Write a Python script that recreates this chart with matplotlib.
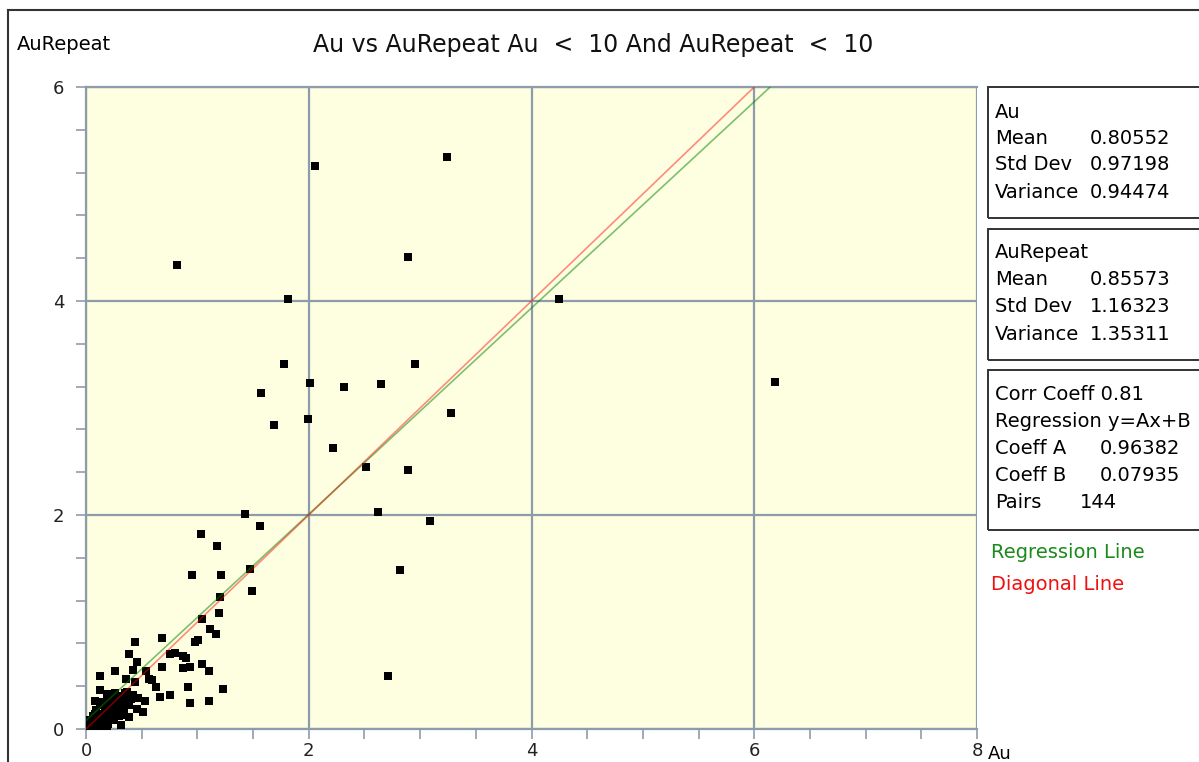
import matplotlib
matplotlib.use("Agg")
import matplotlib.pyplot as plt
from matplotlib.lines import Line2D
from matplotlib.patches import Rectangle
from matplotlib.ticker import MultipleLocator

# Au vs AuRepeat duplicate assay pairs (144 pairs)
au = [
    0.82, 2.06, 3.24, 2.89, 1.81, 4.25, 1.78, 1.57, 1.69, 2.01,
    1.99, 2.32, 2.65, 2.95, 3.28, 2.22, 2.51, 2.89, 6.19, 2.62,
    3.09, 2.82, 2.71, 1.43, 1.56, 1.03, 1.18, 0.95, 1.21, 1.47,
    1.49, 1.20, 1.19, 1.04, 1.11, 1.17, 1.01, 0.98, 0.80, 0.87,
    0.68, 0.44, 0.39, 0.75, 0.90, 0.46, 0.42, 0.68, 0.87, 0.93,
    1.04, 1.10, 0.26, 0.13, 0.36, 0.54, 0.57, 0.63, 0.66, 0.75,
    0.92, 1.23, 0.93, 1.10, 0.44, 0.13, 0.19, 0.26, 0.37, 0.42,
    0.47, 0.53, 0.51, 0.08, 0.13, 0.19, 0.28, 0.33, 0.39, 0.46,
    0.22, 0.28, 0.33, 0.39, 0.13, 0.07, 0.16, 0.25, 0.01, 0.05,
    0.11, 0.19, 0.31, 0.12, 0.59, 0.01, 0.02, 0.02, 0.03, 0.04,
    0.05, 0.06, 0.07, 0.08, 0.09, 0.10, 0.11, 0.12, 0.14, 0.15,
    0.17, 0.18, 0.20, 0.21, 0.23, 0.24, 0.26, 0.28, 0.30, 0.31,
    0.33, 0.35, 0.36, 0.06, 0.09, 0.04, 0.10, 0.14, 0.17, 0.21,
    0.24, 0.27, 0.30, 0.34, 0.36, 0.40, 0.03, 0.07, 0.12, 0.16,
    0.20, 0.08, 0.15, 0.19,
]
au_repeat = [
    4.34, 5.26, 5.35, 4.41, 4.02, 4.02, 3.41, 3.14, 2.84, 3.23,
    2.90, 3.20, 3.22, 3.41, 2.95, 2.63, 2.45, 2.42, 3.24, 2.03,
    1.94, 1.49, 0.50, 2.01, 1.90, 1.82, 1.71, 1.44, 1.44, 1.50,
    1.29, 1.23, 1.08, 1.03, 0.93, 0.89, 0.83, 0.81, 0.71, 0.68,
    0.85, 0.81, 0.70, 0.70, 0.66, 0.63, 0.55, 0.58, 0.57, 0.58,
    0.61, 0.54, 0.54, 0.50, 0.47, 0.54, 0.47, 0.39, 0.30, 0.32,
    0.39, 0.37, 0.24, 0.26, 0.44, 0.36, 0.33, 0.34, 0.35, 0.32,
    0.29, 0.26, 0.16, 0.26, 0.22, 0.22, 0.22, 0.21, 0.22, 0.19,
    0.16, 0.15, 0.13, 0.11, 0.13, 0.10, 0.07, 0.08, 0.04, 0.02,
    0.02, 0.03, 0.04, 0.01, 0.46, 0.01, 0.02, 0.01, 0.03, 0.02,
    0.05, 0.04, 0.07, 0.06, 0.09, 0.08, 0.12, 0.10, 0.14, 0.12,
    0.18, 0.15, 0.20, 0.18, 0.22, 0.26, 0.24, 0.28, 0.27, 0.31,
    0.30, 0.34, 0.32, 0.12, 0.18, 0.08, 0.04, 0.06, 0.11, 0.10,
    0.14, 0.18, 0.12, 0.17, 0.25, 0.28, 0.06, 0.03, 0.05, 0.02,
    0.05, 0.14, 0.25, 0.28,
]

coeff_a = 0.96382
coeff_b = 0.07935

stats_au = [("Mean", "0.80552"), ("Std Dev", "0.97198"), ("Variance", "0.94474")]
stats_rep = [("Mean", "0.85573"), ("Std Dev", "1.16323"), ("Variance", "1.35311")]

grid_col = "#8d9cab"
fs = 14
plt.rcParams["font.family"] = "DejaVu Sans"

fig = plt.figure(figsize=(11.99, 7.62), dpi=100)
W, H = 1199, 762


def fx(px):
    return px / W


def fy(py):
    return 1 - py / H


ax = fig.add_axes([fx(86), fy(729), fx(977) - fx(86), fy(87) - fy(729)])
ax.set_facecolor("#fefee0")
ax.set_xlim(0, 8)
ax.set_ylim(0, 6)

ax.scatter(au, au_repeat, marker="s", s=30, color="black", linewidths=0, zorder=3)

# regression and 1:1 lines
x_end = (6 - coeff_b) / coeff_a
ax.plot([0, x_end], [coeff_b, 6], color="green", lw=1.2, alpha=0.5, zorder=4)
ax.plot([0, 6], [0, 6], color="red", lw=1.2, alpha=0.45, zorder=5)

ax.xaxis.set_major_locator(MultipleLocator(2))
ax.xaxis.set_minor_locator(MultipleLocator(0.5))
ax.yaxis.set_major_locator(MultipleLocator(2))
ax.yaxis.set_minor_locator(MultipleLocator(0.4))
ax.grid(True, which="major", color=grid_col, lw=1.6, zorder=1)
ax.tick_params(which="both", direction="out", length=7.5, width=1.2, color=grid_col,
               labelsize=13, labelcolor="#222222")
ax.tick_params(axis="x", pad=2)
ax.tick_params(axis="y", pad=8)
for side in ["left", "bottom", "top"]:
    ax.spines[side].set_color(grid_col)
    ax.spines[side].set_linewidth(1.6)
ax.spines["right"].set_visible(False)

ax.text(8.1, -0.23, "Au", fontsize=13, ha="left", va="center", transform=ax.transData,
        clip_on=False)

fig.text(fx(17), fy(45), "AuRepeat", fontsize=14, ha="left", va="center")
fig.text(fx(593), fy(45), "Au vs AuRepeat Au  <  10 And AuRepeat  <  10",
         fontsize=17, ha="center", va="center", color="#111111")

# outer frame
fig.add_artist(Line2D([fx(8), fx(8)], [0, fy(10)], color="#333333", lw=1.5))
fig.add_artist(Line2D([fx(8), 1], [fy(10), fy(10)], color="#333333", lw=1.5))


# statistics panels
def panel(y0, y1):
    fig.add_artist(Rectangle((fx(988), fy(y1)), fx(1215) - fx(988), fy(y0) - fy(y1),
                             transform=fig.transFigure, fill=False,
                             edgecolor="#333333", lw=1.4))


panel(87, 218)
fig.text(fx(995), fy(112), "Au", fontsize=fs, va="center")
for i, (k, v) in enumerate(stats_au):
    fig.text(fx(995), fy(138 + 27 * i), k, fontsize=fs, va="center")
    fig.text(fx(1090), fy(138 + 27 * i), v, fontsize=fs, va="center")

panel(229, 360)
fig.text(fx(995), fy(253), "AuRepeat", fontsize=fs, va="center")
for i, (k, v) in enumerate(stats_rep):
    fig.text(fx(995), fy(280 + 27 * i), k, fontsize=fs, va="center")
    fig.text(fx(1090), fy(280 + 27 * i), v, fontsize=fs, va="center")

panel(370, 530)
fig.text(fx(995), fy(394), "Corr Coeff 0.81", fontsize=fs, va="center")
fig.text(fx(995), fy(421), "Regression y=Ax+B", fontsize=fs, va="center")
fig.text(fx(995), fy(448), "Coeff A", fontsize=fs, va="center")
fig.text(fx(1100), fy(448), f"{coeff_a:.5f}", fontsize=fs, va="center")
fig.text(fx(995), fy(475), "Coeff B", fontsize=fs, va="center")
fig.text(fx(1100), fy(475), f"{coeff_b:.5f}", fontsize=fs, va="center")
fig.text(fx(995), fy(502), "Pairs", fontsize=fs, va="center")
fig.text(fx(1080), fy(502), str(len(au)), fontsize=fs, va="center")

fig.text(fx(991), fy(553), "Regression Line", fontsize=fs, va="center", color="#1a8a1a")
fig.text(fx(991), fy(584), "Diagonal Line", fontsize=fs, va="center", color="#ee1111")

fig.savefig("out.png", dpi=100, facecolor="white")
